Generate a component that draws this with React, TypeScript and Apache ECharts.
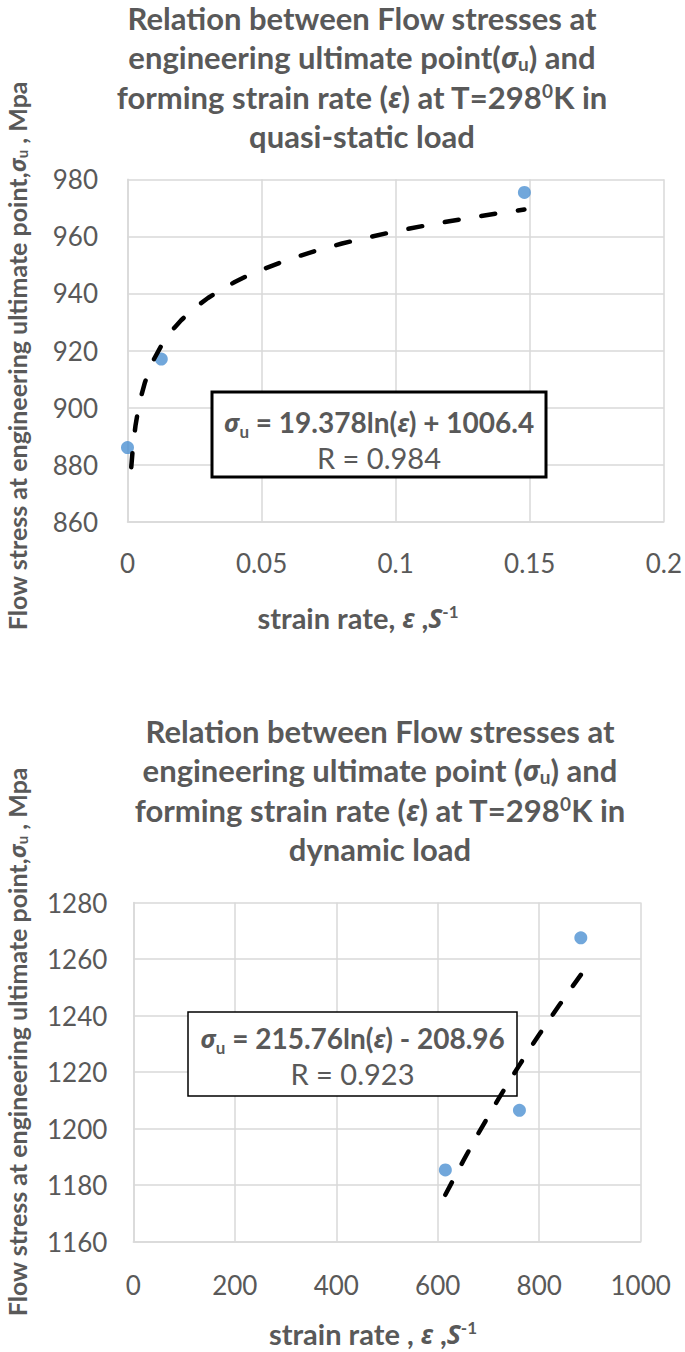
import React, { useEffect, useRef } from "react";
import * as echarts from "echarts";

// ---------- data ----------
const quasiStrainRate = [0, 0.0126, 0.148];
const quasiStress = [886, 917, 975.4];
const quasiTrendRate = [
  0.0014, 0.002, 0.003, 0.004, 0.005, 0.0065, 0.008, 0.01, 0.0125, 0.015, 0.0175, 0.02, 0.025, 0.03, 0.035,
  0.04, 0.045, 0.05, 0.06, 0.07, 0.08, 0.09, 0.1, 0.11, 0.12, 0.13, 0.14, 0.148,
];
const quasiTrendStress = [
  879.1, 886.0, 893.8, 899.4, 903.7, 908.8, 912.8, 917.2, 921.5, 925.0, 928.0, 930.6, 934.9, 938.4, 941.4,
  944.0, 946.3, 948.3, 951.9, 954.9, 957.5, 959.7, 961.8, 963.6, 965.3, 966.9, 968.3, 969.4,
];

const dynStrainRate = [615, 761, 882];
const dynStress = [1185.4, 1206.5, 1267.5];
const dynTrendRate = [615, 650, 680, 700, 720, 740, 760, 780, 800, 820, 840, 860, 882];
const dynTrendStress = [1176.6, 1188.5, 1198.3, 1204.5, 1210.6, 1216.5, 1222.2, 1227.9, 1233.3, 1238.6, 1243.8, 1248.9, 1254.4];

const quasiXAxis = { min: 0, max: 0.2, interval: 0.05 };
const quasiYAxis = { min: 860, max: 980, interval: 20 };
const dynXAxis = { min: 0, max: 1000, interval: 200 };
const dynYAxis = { min: 1160, max: 1280, interval: 20 };

const quasiEquation = ["19.378", "+ 1006.4", "0.984"];
const dynEquation = ["215.76", "- 208.96", "0.923"];

const quasiTitle = [
  "{n|Relation between Flow stresses at}",
  "{n|engineering ultimate point(}{i|σ}{sub|u}{n|) and}",
  "{n|forming strain rate (}{i|ε}{n|) at T=298}{sup|0}{n|K in}",
  "{n|quasi-static load}",
];
const dynTitle = [
  "{n|Relation between Flow stresses at}",
  "{n|engineering ultimate point (}{i|σ}{sub|u}{n|) and}",
  "{n|forming strain rate (}{i|ε}{n|) at T=298}{sup|0}{n|K in}",
  "{n|dynamic load}",
];
const quasiXTitle = "{n|strain rate, }{i|ε}{n| ,}{i|S}{sup|-1}";
const dynXTitle = "{n|strain rate , }{i|ε}{n| ,}{i|S}{sup|-1}";
const yTitle = "{n|Flow stress at engineering ultimate point,}{i|σ}{sub|u}{n| , Mpa}";

// ---------- styles ----------
const FONT = "Lato, 'Noto Sans', 'DejaVu Sans', sans-serif";
const GREEK = "'Noto Sans', 'DejaVu Sans', sans-serif";
const GRAY = "#595959";
const GRID = "#d9d9d9";
const BLUE = "#4e91d2";

function rich(size: number, weight: string, lhScale = 1.25) {
  const lh = Math.round(size * lhScale);
  return {
    n: { fontFamily: FONT, fontSize: size, fontWeight: weight, fill: GRAY, lineHeight: lh },
    i: { fontFamily: GREEK, fontSize: size * 0.92, fontWeight: weight, fontStyle: "italic", fill: GRAY, lineHeight: lh },
    sub: { fontFamily: FONT, fontSize: Math.round(size * 0.6), fontWeight: weight, fill: GRAY, verticalAlign: "bottom", lineHeight: Math.round(lh * 0.55) },
    sup: { fontFamily: FONT, fontSize: Math.round(size * 0.6), fontWeight: weight, fill: GRAY, verticalAlign: "top", lineHeight: Math.round(lh * 0.6) },
    r: { fontFamily: FONT, fontSize: size, fontWeight: "normal", fill: GRAY, lineHeight: lh },
  };
}

function textEl(text: string, x: number, y: number, size: number, weight: string, rotation = 0, lhScale = 1.25) {
  return {
    type: "text",
    x,
    y,
    rotation,
    z: 10,
    style: {
      text,
      rich: rich(size, weight, lhScale),
      align: "center",
      verticalAlign: "middle",
    },
  };
}

const plainNumber = (v: number) => String(Math.round(v * 1000) / 1000);

function axisCommon(cfg: { min: number; max: number; interval: number }, gridIndex: number, margin: number, isX: boolean) {
  return {
    type: "value",
    gridIndex,
    min: cfg.min,
    max: cfg.max,
    interval: cfg.interval,
    axisLine: { show: true, onZero: false, lineStyle: { color: GRID, width: 1.5 } },
    axisTick: { show: false },
    splitLine: { show: true, lineStyle: { color: GRID, width: 1.5 } },
    axisLabel: isX
      ? { fontFamily: FONT, fontSize: 26, color: GRAY, margin, lineHeight: 26, formatter: plainNumber }
      : { fontFamily: FONT, fontSize: 26, color: GRAY, margin, formatter: plainNumber },
  };
}

function pairs(xs: number[], ys: number[]) {
  return xs.map((x, i) => [x, ys[i]]);
}

function equationBox(eq: string[], box: { x: number; y: number; w: number; h: number; lw: number }, l1y: number, l2y: number) {
  const cx = box.x + box.w / 2;
  return [
    {
      type: "rect",
      z: 1,
      shape: { x: box.x, y: box.y, width: box.w, height: box.h },
      style: { fill: "#ffffff", stroke: "#000000", lineWidth: box.lw },
    },
    {
      type: "text",
      x: cx,
      y: l1y,
      z: 1,
      z2: 10,
      style: {
        text: `{i|σ}{sub|u}{n| = ${eq[0]}ln(}{i|ε}{n|) ${eq[1]}}`,
        rich: rich(28, "bold"),
        align: "center",
        verticalAlign: "middle",
      },
    },
    {
      type: "text",
      x: cx,
      y: l2y,
      z: 1,
      z2: 10,
      style: {
        text: `{r|R = ${eq[2]}}`,
        rich: rich(29, "normal"),
        align: "center",
        verticalAlign: "middle",
      },
    },
  ];
}

const trendStyle = { color: "#000000", width: 4.5, type: [14, 23], cap: "round" };

export default function App() {
  const ref = useRef<HTMLDivElement>(null);

  useEffect(() => {
    if (!ref.current) return;
    const chart = echarts.init(ref.current, undefined, { renderer: "svg" });

    const titleGraphics = [
      ...quasiTitle.map((t, i) => textEl(t, 362, 18 + i * 39.3, 31, "bold", 0, 1.0)),
      ...dynTitle.map((t, i) => textEl(t, 380, 731 + i * 39.3, 31, "bold", 0, 1.0)),
      textEl(quasiXTitle, 358, 617, 29, "bold", 0, 1.0),
      textEl(dynXTitle, 373, 1333, 29, "bold", 0, 1.0),
      textEl(yTitle, 17, 356, 25, "bold", Math.PI / 2, 1.0),
      textEl(yTitle, 17, 1042, 25, "bold", Math.PI / 2, 1.0),
    ];

    chart.setOption({
      animation: false,
      backgroundColor: "#ffffff",
      grid: [
        { left: 127.5, top: 179.3, width: 539.2, height: 342.4 },
        { left: 133.3, top: 902.5, width: 507.4, height: 339.2 },
      ],
      xAxis: [axisCommon(quasiXAxis, 0, 28.6, true), axisCommon(dynXAxis, 1, 30.3, true)],
      yAxis: [axisCommon(quasiYAxis, 0, 29.5, false), axisCommon(dynYAxis, 1, 26, false)],
      series: [
        {
          name: "quasi-static data",
          type: "scatter",
          xAxisIndex: 0,
          yAxisIndex: 0,
          symbolSize: 13,
          itemStyle: { color: BLUE },
          data: pairs(quasiStrainRate, quasiStress),
          z: 2,
        },
        {
          name: "quasi-static trend",
          type: "line",
          xAxisIndex: 0,
          yAxisIndex: 0,
          showSymbol: false,
          smooth: false,
          lineStyle: trendStyle,
          data: pairs(quasiTrendRate, quasiTrendStress),
          z: 3,
        },
        {
          name: "dynamic data",
          type: "scatter",
          xAxisIndex: 1,
          yAxisIndex: 1,
          symbolSize: 13,
          itemStyle: { color: BLUE },
          data: pairs(dynStrainRate, dynStress),
          z: 2,
        },
        {
          name: "dynamic trend",
          type: "line",
          xAxisIndex: 1,
          yAxisIndex: 1,
          showSymbol: false,
          smooth: false,
          lineStyle: { ...trendStyle, type: [14, 21] },
          data: pairs(dynTrendRate, dynTrendStress),
          z: 3,
        },
      ],
      graphic: [
        ...equationBox(quasiEquation, { x: 212, y: 392, w: 334, h: 85, lw: 3 }, 422, 457),
        ...equationBox(dynEquation, { x: 188, y: 1012, w: 329, h: 84, lw: 1.5 }, 1038, 1073),
        ...titleGraphics,
      ],
    });

    return () => chart.dispose();
  }, []);

  return (
    <div
      ref={ref}
      style={{ position: "absolute", left: 0, top: 0, width: 685, height: 1352, background: "#fff" }}
    />
  );
}
